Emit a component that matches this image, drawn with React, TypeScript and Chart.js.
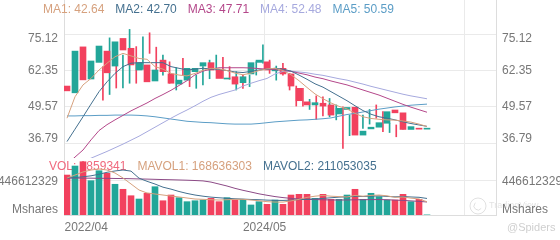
import React, { useEffect, useRef } from 'react';
import { Chart, registerables } from 'chart.js';

Chart.register(...registerables);

// ---------------- data ----------------
const months = [
  '2022/04','2022/05','2022/06','2022/07','2022/08','2022/09','2022/10','2022/11','2022/12',
  '2023/01','2023/02','2023/03','2023/04','2023/05','2023/06','2023/07','2023/08','2023/09','2023/10','2023/11','2023/12',
  '2024/01','2024/02','2024/03','2024/04','2024/05','2024/06','2024/07','2024/08','2024/09','2024/10','2024/11','2024/12',
  '2025/01','2025/02','2025/03','2025/04','2025/05','2025/06','2025/07','2025/08','2025/09','2025/10','2025/11','2025/12',
  '2026/01',
];

const opens = [57.0,54.6,70.9,59.5,65.4,69.4,64.1,73.9,70.4,62.7,64.5,58.8,66.2,61.3,57.7,59.1,62.1,64.1,65.3,62.7,59.5,60.3,58.2,61.3,65.4,65.6,62.4,63.3,61.3,56.2,51.4,50.3,50.9,50.3,47.1,48.7,49.5,39.6,41.8,42.4,43.8,48.5,47.5,41.6,42.0,41.7];
const highs = [63.9,74.1,71.6,68.0,77.1,71.0,74.5,75.9,70.8,68.0,65.6,63.5,66.8,62.7,60.9,63.9,66.2,68.0,67.2,63.9,62.1,60.9,60.9,65.6,71.6,66.2,64.1,65.1,61.5,57.0,56.2,52.3,53.5,53.2,52.6,50.3,49.6,46.7,46.7,46.7,48.7,50.3,47.9,43.8,43.2,41.9];
const lows = [52.0,54.0,56.3,56.3,58.0,58.0,62.9,68.6,61.5,60.9,58.0,55.6,60.9,56.8,56.2,57.4,59.6,62.7,59.7,59.4,55.6,56.2,56.8,60.9,65.1,61.5,59.1,60.9,55.6,49.9,49.9,48.7,45.2,46.4,46.1,45.0,34.9,39.4,41.4,42.0,43.5,45.6,40.8,40.5,39.0,41.7];
const closes = [55.3,69.4,59.2,65.9,71.2,61.7,72.7,69.8,64.5,65.3,58.5,62.7,62.1,58.0,59.1,63.3,63.3,65.3,62.7,59.7,59.8,57.7,60.3,65.3,66.2,62.7,63.3,61.3,57.0,51.8,50.3,51.1,49.9,46.7,49.1,49.4,39.6,41.0,42.4,44.0,47.9,47.5,41.6,42.6,41.7,41.9];

const volumes = [
  510000000,625000000,680000000,438000000,565000000,532000000,392000000,328000000,246000000,204000000,
  277000000,361000000,182000000,255000000,221000000,170000000,182000000,191000000,213000000,170000000,
  221000000,191000000,200000000,128000000,170000000,136000000,191000000,136000000,255000000,264000000,
  264000000,213000000,264000000,200000000,200000000,255000000,328000000,200000000,277000000,234000000,
  191000000,191000000,264000000,170000000,200000000,1859341,
];

const ma1 = [45.6,53.2,57.4,59.7,62.7,65.1,67.4,68.6,67.7,66.8,66.5,63.9,63.0,61.5,60.9,60.6,61.5,62.6,63.3,63.1,62.5,61.6,61.0,61.6,62.5,63.1,63.3,62.5,61.0,58.9,56.5,54.2,52.5,51.0,49.8,48.9,47.3,46.1,45.5,45.2,45.0,44.9,44.6,44.2,43.5,42.64];
const ma2 = [37.3,41.7,46.1,50.6,55.0,58.5,61.5,63.9,65.1,65.3,65.3,65.3,65.3,63.9,63.3,62.7,63.0,63.3,63.1,62.9,62.5,62.0,61.8,62.2,62.7,63.0,63.3,63.0,62.3,60.9,59.4,57.8,56.6,55.0,53.4,51.8,50.0,48.3,47.0,46.1,45.6,45.0,44.3,43.7,43.2,42.70];
const ma3 = [29.3,31.8,34.3,37.9,41.2,43.3,45.0,46.6,48.2,49.6,51.0,52.6,54.0,55.5,57.2,58.9,61.0,62.3,63.0,63.5,63.5,63.5,63.5,63.4,63.2,63.0,62.8,62.6,62.2,61.6,61.0,60.2,59.6,58.8,58.1,57.4,56.5,55.6,54.7,53.8,52.7,51.6,50.5,49.5,48.6,47.71];
const ma4 = [27.8,29.0,30.2,31.4,32.6,33.8,35.1,36.4,37.8,39.2,40.8,42.4,44.0,45.6,47.1,48.5,50.0,51.6,53.0,54.0,54.8,55.6,57.0,58.0,58.9,59.7,61.3,62.2,62.3,62.0,61.7,61.2,60.8,60.2,59.6,59.1,58.4,57.7,56.9,56.2,55.5,54.8,54.1,53.5,53.0,52.48];
const ma5 = [46.4,46.4,46.5,46.5,46.6,46.6,46.7,46.7,46.7,46.6,46.4,46.1,45.7,45.3,44.9,44.5,44.3,44.1,44.0,43.8,43.6,43.5,43.5,43.5,43.7,44.0,44.3,44.5,44.7,44.9,45.0,45.2,45.4,45.7,46.3,46.9,47.3,47.8,48.3,48.8,49.2,49.6,49.9,50.2,50.4,50.59];

const mavol1 = [
  472000000,510000000,549000000,574000000,587000000,574000000,536000000,472000000,396000000,319000000,
  281000000,268000000,255000000,242000000,230000000,217000000,204000000,200000000,195000000,191000000,
  195000000,200000000,200000000,191000000,182000000,170000000,165000000,165000000,180000000,200000000,
  225000000,240000000,250000000,240000000,235000000,230000000,250000000,240000000,250000000,255000000,
  245000000,225000000,230000000,215000000,205000000,168636303,
];
const mavol2 = [
  472000000,478000000,488000000,500000000,520000000,545000000,562000000,574000000,560000000,470000000,
  430000000,395000000,355000000,330000000,300000000,275000000,255000000,240000000,228000000,220000000,
  213000000,207000000,203000000,198000000,195000000,190000000,187000000,186000000,190000000,196000000,
  200000000,205000000,212000000,220000000,228000000,232000000,238000000,236000000,240000000,244000000,
  237000000,232000000,236000000,230000000,226000000,211053035,
];
const mavol3 = [
  472000000,472000000,470000000,470000000,468000000,468000000,466000000,465000000,463000000,460000000,
  458000000,455000000,452000000,450000000,447000000,444000000,440000000,435000000,420000000,395000000,
  370000000,340000000,315000000,293000000,270000000,252000000,235000000,222000000,212000000,204000000,
  200000000,197000000,194000000,192000000,191000000,192000000,194000000,195000000,196000000,197000000,
  195000000,190000000,186000000,180000000,174000000,166000000,
];

const priceTicks = [75.12, 62.35, 49.57, 36.79];
const volTicks = [446612329];
const volUnit = 'Mshares';
const xTickLabels = ['2022/04', '2024/05'];
const maNames = ['MA1', 'MA2', 'MA3', 'MA4', 'MA5'];
const volName = 'VOL';
const mavolNames = ['MAVOL1', 'MAVOL2'];
const credit = '@Spiders';
const logoText = 'TradingView';

// ---------------- styles ----------------
const W = 560;
const H = 240;
const AXIS_W = 64;
const XAXIS_H = 25;
const CHART_H = H - XAXIS_H; // 215
const MAIN_PANE_H = 158;
const X_MIN = -0.375;
const X_MAX = 53.625;
const X_GRID_STEP = 25;
const PRICE_MIN = 11.24;
const PRICE_MAX = 87.54;
const VOL_MAX = 2743500000;

const UP = '#22A699';
const DOWN = '#F2415E';
const GRID = '#EAEAEA';
const BORDER = '#DDDDDD';
const TICK = '#777777';
const FONT = '"Liberation Sans", Arial, Helvetica, sans-serif';
const maColors = ['#D6A17E', '#44708F', '#B4478A', '#A6A9DE', '#5B9DC6'];
const volColor = '#F0697E';
const mavolColors = ['#D6A17E', '#44708F', '#8C4A86'];

const priceLabelShiftPx = [4, 0, 0, -4];
const volLabelShiftPx = [2];
const unitLabelShiftPx = -5;

const pxToPrice = (px: number) => (px * (PRICE_MAX - PRICE_MIN)) / CHART_H;
const volToPrice = (v: number) => PRICE_MIN + (v / VOL_MAX) * (PRICE_MAX - PRICE_MIN);

function buildYTicks() {
  const t: any[] = [];
  priceTicks.forEach((v, i) => {
    t.push({ value: v, g: true, lbl: '' });
    t.push({ value: v - pxToPrice(priceLabelShiftPx[i]), g: false, lbl: v.toFixed(2) });
  });
  volTicks.forEach((v, i) => {
    const p = volToPrice(v);
    t.push({ value: p, g: true, lbl: '' });
    t.push({ value: p - pxToPrice(volLabelShiftPx[i]), g: false, lbl: String(v) });
  });
  t.push({ value: volToPrice(0) - pxToPrice(unitLabelShiftPx), g: false, lbl: volUnit });
  return t.sort((a, b) => a.value - b.value);
}

function buildXTicks() {
  const t: any[] = [];
  const gridShift = -0.3;
  for (let k = X_GRID_STEP; k < X_MAX; k += X_GRID_STEP) {
    const label = months[k];
    const show = label !== undefined && xTickLabels.includes(label);
    t.push({ value: k + gridShift, g: true, lbl: show ? label : '' });
  }
  const firstIdx = months.indexOf(xTickLabels[0]);
  // first label kept inside the plot's left edge
  t.push({ value: firstIdx + 2.4, g: false, lbl: xTickLabels[0] });
  return t.sort((a, b) => a.value - b.value);
}

const paneClip = {
  id: 'paneClip',
  beforeDatasetDraw(chart: any, args: any) {
    const ds = chart.data.datasets[args.index];
    const { left, right, top, bottom } = chart.chartArea;
    const split = top + MAIN_PANE_H;
    const ctx = chart.ctx;
    ctx.save();
    ctx.beginPath();
    if (ds.pane === 'vol') ctx.rect(left, split, right - left, bottom - split);
    else ctx.rect(left, top, right - left, split - top);
    ctx.clip();
  },
  afterDatasetDraw(chart: any) {
    chart.ctx.restore();
  },
};

const textPlugin = {
  id: 'paneText',
  beforeDraw(chart: any) {
    const ctx = chart.ctx;
    ctx.save();
    ctx.strokeStyle = 'rgba(0,0,0,0.12)';
    ctx.lineWidth = 1;
    ctx.beginPath();
    ctx.arc(478, 206, 8, 0, Math.PI * 2);
    ctx.stroke();
    ctx.beginPath();
    ctx.arc(478, 206, 4, Math.PI * 0.2, Math.PI * 1.3);
    ctx.stroke();
    ctx.fillStyle = 'rgba(0,0,0,0.12)';
    ctx.font = `9px ${FONT}`;
    ctx.textBaseline = 'middle';
    ctx.fillText(logoText, 489, 206);
    ctx.restore();
  },
  beforeDatasetsDraw(chart: any) {
    const ctx = chart.ctx;
    ctx.save();
    ctx.font = `12px ${FONT}`;
    ctx.textBaseline = 'middle';
    ctx.textAlign = 'left';
    const gap = 11;
    const last = months.length - 1;
    const maData = [ma1, ma2, ma3, ma4, ma5];
    let x = 43;
    maNames.forEach((n, i) => {
      const s = `${n}: ${maData[i][last].toFixed(2)}`;
      ctx.fillStyle = maColors[i];
      ctx.fillText(s, x, 10);
      x += ctx.measureText(s).width + gap;
    });
    const volItems = [
      { s: `${volName}: ${volumes[last]}`, c: volColor },
      { s: `${mavolNames[0]}: ${mavol1[last]}`, c: mavolColors[0] },
      { s: `${mavolNames[1]}: ${mavol2[last]}`, c: mavolColors[1] },
    ];
    x = 49;
    volItems.forEach((it) => {
      ctx.fillStyle = it.c;
      ctx.fillText(it.s, x, 166.5);
      x += ctx.measureText(it.s).width + gap;
    });
    ctx.restore();
  },
  afterDraw(chart: any) {
    const ctx = chart.ctx;
    ctx.save();
    ctx.font = `11px ${FONT}`;
    ctx.fillStyle = '#CFCFCF';
    ctx.textBaseline = 'middle';
    ctx.fillText(credit, 507, 228);
    ctx.restore();
  },
};

export default function App() {
  const ref = useRef<HTMLCanvasElement | null>(null);

  useEffect(() => {
    const canvas = ref.current;
    if (!canvas) return;
    const idx = months.map((_, i) => i);
    const candleColors = idx.map((i) => (closes[i] >= opens[i] ? UP : DOWN));

    const line = (data: number[], color: string, yAxisID: string, pane: string) => ({
      type: 'line',
      data: idx.map((i) => ({ x: i, y: data[i] })),
      borderColor: color,
      borderWidth: 1,
      pointRadius: 0,
      tension: 0,
      fill: false,
      xAxisID: 'x',
      yAxisID,
      pane,
      order: 0,
    });

    const datasets: any[] = [
      ...[ma1, ma2, ma3, ma4, ma5].map((d, k) => line(d, maColors[k], 'y', 'main')),
      line(mavol1, mavolColors[0], 'yv', 'vol'),
      line(mavol2, mavolColors[1], 'yv', 'vol'),
      line(mavol3, mavolColors[2], 'yv', 'vol'),
      {
        type: 'bar',
        data: idx.map((i) => ({ x: i, y: [opens[i], closes[i]] })),
        backgroundColor: candleColors,
        borderWidth: 0,
        barThickness: 6,
        minBarLength: 1,
        grouped: false,
        xAxisID: 'x',
        yAxisID: 'y',
        pane: 'main',
        order: 1,
      },
      {
        type: 'bar',
        data: idx.map((i) => ({ x: i, y: [lows[i], highs[i]] })),
        backgroundColor: candleColors,
        borderWidth: 0,
        barThickness: 1,
        grouped: false,
        xAxisID: 'xw',
        yAxisID: 'y',
        pane: 'main',
        order: 2,
      },
      {
        type: 'bar',
        data: idx.map((i) => ({ x: i, y: volumes[i] })),
        backgroundColor: candleColors,
        borderWidth: 0,
        barThickness: 6,
        grouped: false,
        xAxisID: 'x',
        yAxisID: 'yv',
        pane: 'vol',
        order: 3,
      },
    ];

    const yTickOpts = (padding: number) => ({
      autoSkip: false,
      padding,
      color: TICK,
      font: { size: 12, family: FONT },
      callback: (_v: any, i: number, ticks: any[]) => ticks[i].lbl,
    });

    const fitY = (s: any) => {
      s.width = AXIS_W;
      s.paddingTop = 0;
      s.paddingBottom = 0;
    };

    const chart = new Chart(canvas, {
      type: 'line',
      data: { datasets },
      plugins: [paneClip, textPlugin],
      options: {
        animation: false,
        responsive: false,
        devicePixelRatio: 1,
        events: [],
        layout: { padding: 0 },
        plugins: { legend: { display: false }, tooltip: { enabled: false } },
        scales: {
          x: {
            type: 'linear',
            position: 'bottom',
            min: X_MIN,
            max: X_MAX,
            offset: false,
            afterBuildTicks: (s: any) => { s.ticks = buildXTicks(); },
            afterFit: (s: any) => { s.height = XAXIS_H; s.paddingLeft = 0; s.paddingRight = 0; },
            grid: {
              offset: false,
              drawTicks: false,
              color: (c: any) => (c.tick && c.tick.g ? GRID : 'rgba(0,0,0,0)'),
            },
            border: { display: true, color: BORDER },
            ticks: {
              autoSkip: false,
              maxRotation: 0,
              padding: 5,
              color: TICK,
              font: { size: 12, family: FONT },
              callback: (_v: any, i: number, ticks: any[]) => ticks[i].lbl,
            },
          },
          xw: {
            type: 'linear',
            display: false,
            min: X_MIN - 0.0625,
            max: X_MAX - 0.0625,
          },
          y: {
            type: 'linear',
            position: 'left',
            min: PRICE_MIN,
            max: PRICE_MAX,
            bounds: 'data',
            afterBuildTicks: (s: any) => { s.ticks = buildYTicks(); },
            afterFit: fitY,
            grid: {
              drawTicks: false,
              color: (c: any) => (c.tick && c.tick.g ? GRID : 'rgba(0,0,0,0)'),
            },
            border: { display: true, color: BORDER },
            ticks: yTickOpts(6),
          },
          yR: {
            type: 'linear',
            position: 'right',
            min: PRICE_MIN,
            max: PRICE_MAX,
            bounds: 'data',
            afterBuildTicks: (s: any) => { s.ticks = buildYTicks(); },
            afterFit: fitY,
            grid: { display: false, drawTicks: false },
            border: { display: true, color: BORDER },
            ticks: yTickOpts(6),
          },
          yv: {
            type: 'linear',
            display: false,
            min: 0,
            max: VOL_MAX,
          },
        },
      } as any,
    } as any);

    return () => chart.destroy();
  }, []);

  return (
    <div style={{ position: 'fixed', left: 0, top: 0, width: W, height: H, background: '#ffffff' }}>
      <canvas ref={ref} width={W} height={H} style={{ display: 'block', width: W, height: H }} />
    </div>
  );
}
